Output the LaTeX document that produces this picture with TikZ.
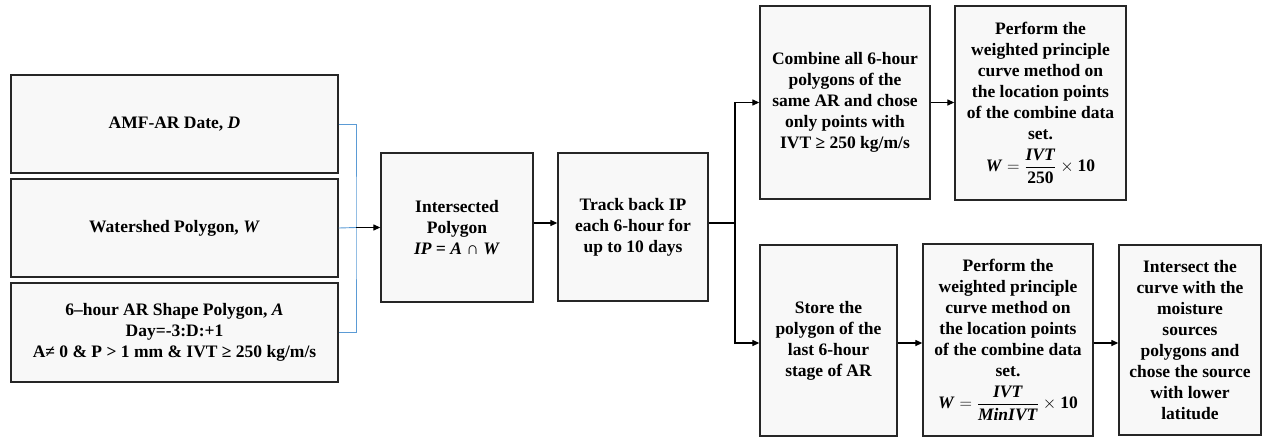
\documentclass[tikz,border=0pt]{standalone}
\usepackage{fontspec}
\setmainfont{Liberation Serif}
\usetikzlibrary{arrows.meta}
\definecolor{boxfill}{HTML}{F8F8F8}
\definecolor{boxline}{HTML}{262626}
\definecolor{linkblue}{HTML}{5B9BD5}
\newcommand{\wfrac}[1]{$\displaystyle \textbf{\textit{W}} = \frac{\textbf{\textit{IVT}}}{#1}\times\textbf{10}$}
\begin{document}
\begin{tikzpicture}[x=1pt,y=-1pt,
  font=\fontsize{17.5}{21}\selectfont\bfseries,
  box/.style={draw=boxline, fill=boxfill, line width=1.3pt, inner sep=0pt,
    align=center, anchor=center},
  arr/.style={line width=1.2pt, -{Triangle[length=7pt,width=6pt]}},
  bluelink/.style={draw=linkblue, line width=0.9pt}]
\useasboundingbox (0,0) rectangle (1262,437);

% inputs
\node[box, minimum width=327pt, minimum height=98pt] (date) at (174.5,124)
  {AMF-AR Date, \textit{D}};
\node[box, minimum width=327pt, minimum height=98pt] (shed) at (174.5,228)
  {Watershed Polygon, \textit{W}};
\node[box, minimum width=327pt, minimum height=99pt] (shape) at (174.5,332.5)
  {6–hour AR Shape Polygon, \textit{A}\\Day=-3:D:+1\\A≠ 0 \& P > 1 mm \& IVT ≥ 250 kg/m/s};

% main chain
\node[box, minimum width=152pt, minimum height=149pt] (ip) at (457,227.5)
  {Intersected\\Polygon\\\textit{IP = A ∩ W}};
\node[box, minimum width=150pt, minimum height=148pt] (track) at (633,227)
  {Track back IP\\each 6-hour for\\up to 10 days};

% upper branch
\node[box, minimum width=170pt, minimum height=193pt] (comb) at (845,102.5)
  {Combine all 6-hour\\polygons of the\\same AR and chose\\only points with\\IVT ≥ 250 kg/m/s};
\node[box, minimum width=171pt, minimum height=194pt] (pc1) at (1040.5,103)
  {Perform the\\weighted principle\\curve method on\\the location points\\of the combine data\\set.\\[8pt]
   \wfrac{\textbf{250}}};

% lower branch
\node[box, minimum width=137pt, minimum height=191pt] (store) at (828.5,340.5)
  {Store the\\polygon of the\\last 6-hour\\stage of AR};
\node[box, minimum width=170pt, minimum height=192pt] (pc2) at (1008,340)
  {Perform the\\weighted principle\\curve method on\\the location points\\of the combine data\\set.\\[8pt]
   \wfrac{\textbf{\textit{MinIVT}}}};
\node[box, minimum width=142pt, minimum height=190pt] (isect) at (1190,340)
  {Intersect the\\curve with the\\moisture\\sources\\polygons and\\chose the source\\with lower\\latitude};

% joins and connectors
\coordinate (join) at (356,227.5);
\coordinate (split) at (735,223);
\draw[bluelink] (date.east) -| (join) |- (shape.east);
\draw[bluelink] (shed.east) -- (join);
\draw[arr] (join) -- (ip.west);
\draw[arr] ([yshift=4.5pt]ip.east) -- ([yshift=4pt]track.west);
\draw[line width=1.2pt] ([yshift=4pt]track.east) -- (split);
\draw[arr] (split) |- (comb.west);
\draw[arr] (split) |- ([yshift=-2.5pt]store.west);
\draw[arr] (comb.east) -- (pc1.west |- comb.east);
\draw[arr] ([yshift=-2.5pt]store.east) -- ([yshift=-3pt]pc2.west);
\draw[arr] ([yshift=-3pt]pc2.east) -- ([yshift=-3pt]isect.west);
\end{tikzpicture}
\end{document}
